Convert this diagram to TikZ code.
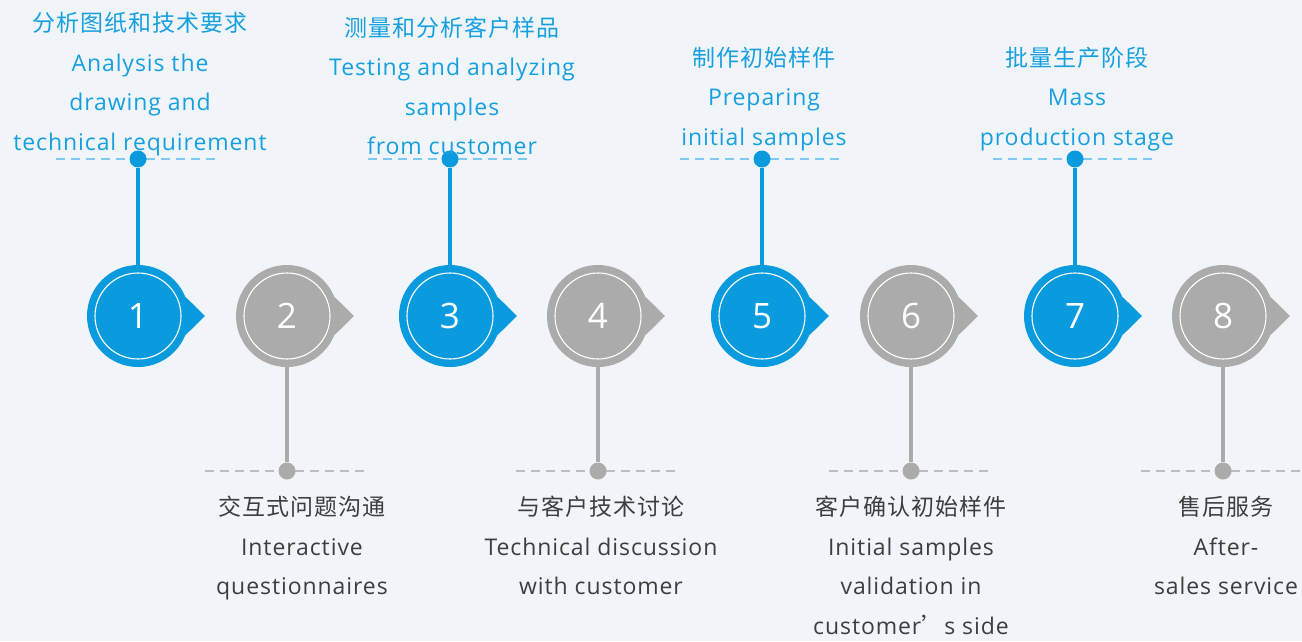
\documentclass[tikz,border=0pt]{standalone}
\usepackage{fontspec}
\setmainfont[LetterSpace=4]{Open Sans}
\newfontfamily\cjk[LetterSpace=4]{Noto Sans CJK SC}
\usetikzlibrary{calc}

\definecolor{stepblue}{HTML}{0A9BDF}
\definecolor{stepgray}{HTML}{ABABAB}
\definecolor{dashblue}{HTML}{7FC8EE}
\definecolor{dashgray}{HTML}{BDBDBD}
\definecolor{labelblue}{HTML}{17A0E0}
\definecolor{labelgray}{HTML}{3E3E3E}
\definecolor{bgcol}{HTML}{F1F5F9}

\tikzset{
  label text/.style={align=center, inner sep=0pt, font=\fontsize{23}{39.5}\selectfont},
  guide/.style={line width=1.4pt, dash pattern=on 9pt off 6pt}
}

\begin{document}
\begin{tikzpicture}[x=1pt, y=-1pt]
	\def\yC{316};
	\def\yTop{159};
	\def\yBot{471};

	\useasboundingbox (0,0) rectangle (1302,641);
	\fill[bgcol] (0,0) rectangle (1302,641);

	% steps 1, 3, 5, 7 point up, 2, 4, 6, 8 point down
	\foreach \n/\x/\col/\dcol/\yd in {1/138/stepblue/dashblue/\yTop, 2/287/stepgray/dashgray/\yBot,
		3/450/stepblue/dashblue/\yTop, 4/598/stepgray/dashgray/\yBot,
		5/762/stepblue/dashblue/\yTop, 6/911/stepgray/dashgray/\yBot,
		7/1075/stepblue/dashblue/\yTop, 8/1223/stepgray/dashgray/\yBot}
	{
		\coordinate (l\n) at (\x-82,\yd);
		\coordinate (r\n) at (\x+82,\yd);
		\draw[guide, \dcol] (l\n) -- (r\n);

		\node[circle, fill=\col, minimum size=102pt, inner sep=0pt] (c\n) at (\x,\yC) {};
		\coordinate (p\n) at (\x+67,\yC);
		\fill[\col] (c\n.22) -- (p\n) -- (c\n.-22) -- cycle;
		\node[circle, draw=white, line width=1.1pt, minimum size=86pt, inner sep=0pt,
			text=white, font=\fontsize{35}{35}\selectfont] at (c\n) {\n};

		\node[circle, fill=\col, minimum size=17pt, inner sep=0pt] (d\n) at (\x,\yd) {};
		\draw[\col, line width=3.6pt] (c\n) -- (d\n);
	}

	% labels above
	\begin{scope}[text=labelblue]
		\node[label text, anchor=south] (t1) at (140,156) {{\cjk 分析图纸和技术要求}\\Analysis the\\drawing and\\technical requirement};
		\node[label text, anchor=south] (t3) at (452,155) {{\cjk 测量和分析客户样品}\\Testing and analyzing\\samples\\from customer};
		\node[label text, anchor=south] (t5) at (764,151) {{\cjk 制作初始样件}\\Preparing\\initial samples};
		\node[label text, anchor=south] (t7) at (1077,151) {{\cjk 批量生产阶段}\\Mass\\production stage};
	\end{scope}

	% labels below
	\begin{scope}[text=labelgray]
		\node[label text, anchor=north] (t2) at (302,496) {{\cjk 交互式问题沟通}\\Interactive\\questionnaires};
		\node[label text, anchor=north] (t4) at (601,496) {{\cjk 与客户技术讨论}\\Technical discussion\\with customer};
		\node[label text, anchor=north] (t6) at (911,496) {{\cjk 客户确认初始样件}\\Initial samples\\validation in\\customer{\cjk ’}s side};
		\node[label text, anchor=north] (t8) at (1226,496) {{\cjk 售后服务}\\After-\\sales service};
	\end{scope}
\end{tikzpicture}
\end{document}
